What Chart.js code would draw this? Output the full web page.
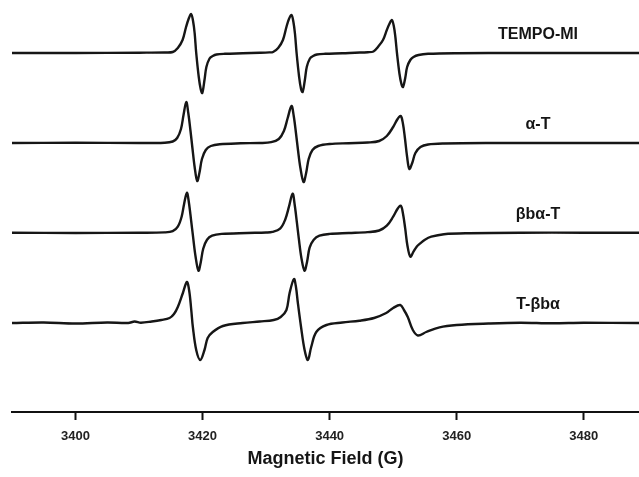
<!DOCTYPE html>
<html>
<head>
<meta charset="utf-8">
<title>EPR spectra</title>
<script src="https://cdn.jsdelivr.net/npm/chart.js@4.4.1/dist/chart.umd.min.js"></script>
<style>
  body { margin: 0; background: #fff; }
  canvas { display: block; }
</style>
</head>
<body>
<canvas id="myChart" width="639" height="477"></canvas>
<script>
// sample names, top to bottom
const names = ['TEMPO-MI', '\u03b1-T', '\u03b2b\u03b1-T', 'T-\u03b2b\u03b1'];
// vertical offset of each spectrum (stacked plot)
const offsets = [359, 269, 179.3, 89];
const xTicks = [3400, 3420, 3440, 3460, 3480];

// TEMPO-MI
const tempoField = [3390, 3400, 3410, 3414, 3415.3, 3416.1, 3416.85, 3417.4, 3417.8, 3418.2, 3418.5, 3418.75, 3419.0, 3419.4, 3419.7, 3419.95, 3420.3, 3420.6, 3421.1, 3421.6, 3422.2, 3423.5, 3426.3,
    3429, 3430.5, 3431.1, 3431.9, 3432.65, 3433.2, 3433.6, 3434.0, 3434.3, 3434.55, 3434.8, 3435.2, 3435.5, 3435.75, 3436.1, 3436.4, 3436.9, 3437.4, 3438.0, 3439.3, 3442,
    3444, 3446, 3446.9, 3447.6, 3448.4, 3449.0, 3449.4, 3449.8, 3450.1, 3450.35, 3450.6, 3451.0, 3451.3, 3451.55, 3451.9, 3452.2, 3452.7, 3453.2, 3454.0, 3455.5, 3460, 3470, 3480, 3488.7];
const tempoAmp = [0, 0, 0.3, 0.5, 1, 5, 13, 26, 34, 39, 32, 20, 0, -24, -36, -40, -27, -14, -5.5, -3, -1.5, -0.8, -0.3,
    0.2, 0.6, 1, 5, 13, 26, 34, 38, 31, 19, 0, -24, -36, -39, -27, -14, -5.5, -3, -1.5, -0.8, -0.3,
    0.3, 0.8, 1.5, 6, 13, 23, 29, 33, 27, 16, 0, -21, -31, -34, -25, -14, -7, -4, -2, -0.8, -0.2, 0, 0, 0];

// alpha-T
const alphaField = [3390, 3400, 3410, 3414.0, 3415.3, 3416.0, 3416.6, 3417.0, 3417.43, 3417.75, 3418.1, 3418.4, 3418.75, 3419.15, 3419.5, 3419.9, 3420.5, 3421.3, 3422.7, 3426,
    3429, 3430.8, 3432.0, 3432.8, 3433.4, 3434.0, 3434.35, 3434.7, 3435.0, 3435.4, 3435.9, 3436.3, 3436.7, 3437.3, 3438.2, 3440, 3443,
    3446, 3447.8, 3449.0, 3450.0, 3450.7, 3451.2, 3451.55, 3451.85, 3452.2, 3452.55, 3453.0, 3453.5, 3454.3, 3455.5, 3458, 3465, 3475, 3488.7];
const alphaAmp = [0, 0.2, 0, 0.3, 1.5, 5, 14, 28, 41, 30, 12, -5, -24, -38, -30, -16, -7, -3, -1.2, -0.3,
    0, 0.8, 4, 12, 25, 37, 27, 10, -6, -25, -39, -30, -16, -7, -3, -1, -0.2,
    0.5, 2, 7, 16, 24, 27, 19, 5, -14, -26, -20, -10, -4, -1.5, -0.5, 0, 0, 0];

// beta-b-alpha-T
const bbaField = [3390, 3400, 3410, 3414.0, 3415.3, 3416.1, 3416.7, 3417.1, 3417.53, 3417.85, 3418.2, 3418.5, 3418.9, 3419.35, 3419.7, 3420.1, 3420.7, 3421.5, 3423, 3427,
    3430, 3431, 3432.2, 3433.0, 3433.6, 3434.17, 3434.5, 3434.85, 3435.15, 3435.55, 3436.05, 3436.45, 3436.85, 3437.5, 3438.4, 3440, 3443,
    3446, 3447.8, 3449.0, 3450.0, 3450.7, 3451.2, 3451.55, 3451.9, 3452.25, 3452.7, 3453.2, 3453.7, 3454.2, 3455.0, 3456, 3458, 3462, 3470, 3480, 3488.7];
const bbaAmp = [0, -0.3, 0, 0.3, 1.5, 6, 16, 29, 40, 30, 12, -4, -24, -38, -30, -16, -7, -3, -1.2, -0.3,
    0.2, 0.8, 4, 13, 26, 39, 28, 10, -6, -25, -38, -29, -15, -7, -3, -1.2, -0.3,
    0.6, 2.2, 7, 16, 24, 27, 19, 4, -13, -24, -19, -14, -11, -7, -4, -1.5, -0.5, 0, 0, 0];

// T-beta-b-alpha
const tbbaField = [3390, 3395, 3400, 3405, 3408.3, 3409.3, 3410.3, 3412, 3413.5, 3414.8, 3415.5, 3416.1, 3416.9, 3417.53, 3417.9, 3418.22, 3418.47, 3419.0, 3419.64, 3420.3, 3420.8, 3421.6, 3423.2, 3426.3, 3429, 3431.2,
    3432.3, 3433.2, 3433.7, 3434.38, 3434.7, 3435.0, 3435.5, 3436.06, 3436.58, 3437.1, 3437.9, 3439.5, 3442, 3444.7, 3447, 3448.9,
    3450.0, 3451.12, 3451.7, 3452.3, 3453.1, 3453.9, 3455.2, 3457.3, 3460, 3465, 3470, 3475, 3480, 3488.7];
const tbbaAmp = [0, 0.5, -0.5, 0.5, 0, 1.5, 0.3, 1.5, 3, 5, 9, 16, 30, 41, 32, 13, -4, -27, -37, -27, -15, -9, -3, 0, 1.5, 3,
    6, 13, 30, 44, 36, 20, -4, -27, -37, -24, -9, -2, 0.5, 2.3, 5, 10,
    15, 18, 13, 6, -7, -12.5, -9, -4.3, -2, -0.5, 0.3, -0.3, 0.2, 0];

const fields = [tempoField, alphaField, bbaField, tbbaField];
const amps = [tempoAmp, alphaAmp, bbaAmp, tbbaAmp];

// where the sample names sit
const labelField = 3472.8;
const labelRise = 18;

var datasets = [];
for(var i = 0; i < names.length; i++){
    var pts = [];
    for(var j = 0; j < fields[i].length; j++){
        pts.push({x: fields[i][j], y: amps[i][j] + offsets[i]});
    }
    // measured spectrum
    datasets.push({
        label: names[i],
        data: pts,
        borderColor: '#161616',
        borderWidth: 2.4,
        pointRadius: 0,
        tension: 0.35
    });
    // fit, dotted red on top
    datasets.push({
        label: names[i] + ' fit',
        data: pts,
        borderColor: '#d23a32',
        borderWidth: 1,
        borderDash: [1.5, 2.5],
        pointRadius: 0,
        tension: 0.35
    });
}

const traceLabels = {
    id: 'traceLabels',
    afterDatasetsDraw(chart){
        var ctx = chart.ctx;
        var xs = chart.scales.x;
        var ys = chart.scales.y;
        ctx.save();
        ctx.font = 'bold 16px "Liberation Sans", Arial, sans-serif';
        ctx.fillStyle = '#151515';
        ctx.textAlign = 'center';
        ctx.textBaseline = 'middle';
        for(var i = 0; i < names.length; i++){
            ctx.fillText(names[i], xs.getPixelForValue(labelField), ys.getPixelForValue(offsets[i] + labelRise));
        }
        ctx.restore();
    }
};

var myChart = new Chart(document.getElementById('myChart').getContext('2d'), {
    type: 'line',
    data: { datasets: datasets },
    options: {
        responsive: false,
        animation: false,
        devicePixelRatio: 1,
        layout: { padding: { left: 12, right: 0, top: 0, bottom: 0 } },
        plugins: {
            legend: { display: false },
            tooltip: { enabled: false }
        },
        scales: {
            x: {
                type: 'linear',
                position: 'bottom',
                min: 3390,
                max: 3488.7,
                afterBuildTicks: function(scale){
                    scale.ticks = xTicks.map(function(v){ return {value: v}; });
                },
                afterFit: function(scale){
                    scale.height = 65;
                },
                border: { display: true, color: '#111', width: 2 },
                grid: {
                    display: true,
                    drawOnChartArea: false,
                    drawTicks: true,
                    tickLength: 8,
                    tickWidth: 2,
                    tickColor: '#111'
                },
                ticks: {
                    color: '#222',
                    padding: 9,
                    maxRotation: 0,
                    font: { family: '"Liberation Sans", Arial, sans-serif', size: 13, weight: 'bold' },
                    callback: function(v){ return String(v); }
                },
                title: {
                    display: true,
                    text: 'Magnetic Field (G)',
                    color: '#151515',
                    padding: { top: 4, bottom: 7 },
                    font: { family: '"Liberation Sans", Arial, sans-serif', size: 18, weight: 'bold' }
                }
            },
            y: {
                display: false,
                min: 0,
                max: 412
            }
        }
    },
    plugins: [traceLabels]
});
</script>
</body>
</html>
